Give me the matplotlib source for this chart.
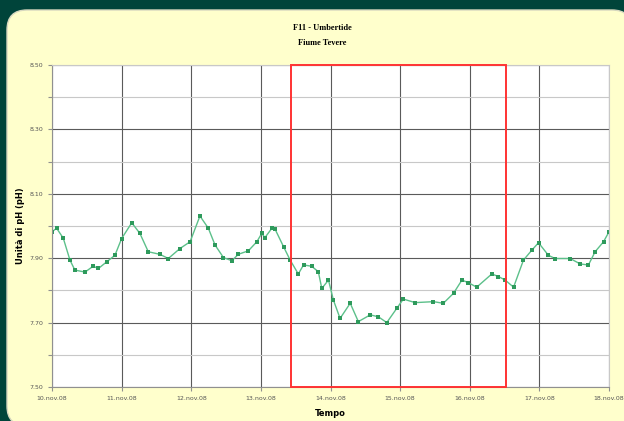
import matplotlib
matplotlib.use("Agg")
import matplotlib.pyplot as plt
from matplotlib.patches import FancyBboxPatch, Rectangle
from matplotlib.ticker import MultipleLocator

# ore dal 10 nov 08 00:00 e valori di pH
ore = [0, 1.6, 3.9, 6.2, 7.9, 11.4, 14.2, 16.0, 18.9, 21.7, 24.0, 27.5, 30.3, 33.2,
       37.2, 40.1, 44.1, 47.6, 51.0, 53.9, 56.2, 59.1, 62.0, 64.2, 67.7, 70.6, 72.3,
       73.4, 75.8, 76.9, 79.8, 82.1, 84.9, 86.7, 89.5, 91.8, 93.0, 95.3, 97.0, 99.3,
       102.8, 105.6, 109.7, 112.5, 115.4, 118.9, 121.1, 125.2, 131.5, 134.9, 138.4,
       141.3, 143.5, 146.4, 151.6, 153.9, 156.2, 159.1, 162.5, 165.4, 167.7, 171.1,
       173.4, 178.6, 182.1, 184.9, 187.2, 190.1, 192.0]
ph = [7.982, 7.993, 7.962, 7.894, 7.863, 7.857, 7.875, 7.868, 7.889, 7.909, 7.961,
      8.010, 7.977, 7.920, 7.912, 7.899, 7.930, 7.951, 8.031, 7.993, 7.941, 7.902,
      7.892, 7.912, 7.923, 7.951, 7.977, 7.964, 7.993, 7.990, 7.936, 7.894, 7.851,
      7.879, 7.875, 7.858, 7.806, 7.832, 7.770, 7.713, 7.760, 7.703, 7.724, 7.718,
      7.700, 7.745, 7.773, 7.762, 7.765, 7.760, 7.791, 7.832, 7.824, 7.810, 7.851,
      7.843, 7.832, 7.810, 7.894, 7.925, 7.948, 7.909, 7.899, 7.899, 7.882, 7.879,
      7.920, 7.951, 7.982]
giorni = ["10.nov.08", "11.nov.08", "12.nov.08", "13.nov.08", "14.nov.08",
          "15.nov.08", "16.nov.08", "17.nov.08", "18.nov.08"]
evidenza = (82.5, 156.5)  # periodo evidenziato in rosso (ore)

fig = plt.figure(figsize=(6.24, 4.21), dpi=100)
fig.patch.set_facecolor("#00443a")

# pannello giallo con angoli arrotondati
pannello = FancyBboxPatch((0.07, -0.05), 6.25, 4.16,
                          boxstyle="round,pad=0,rounding_size=0.2",
                          transform=fig.dpi_scale_trans,
                          facecolor="#ffffcc", edgecolor="#d8d8c0", linewidth=1.0,
                          zorder=-10)
fig.patches.append(pannello)

ax = fig.add_axes([0.0833, 0.0808, 0.8927, 0.7648])
ax.set_facecolor("white")

ax.plot(ore, ph, color="#5cc08a", linewidth=1.0, marker="s", markersize=2.4,
        markerfacecolor="#2e9a5c", markeredgewidth=0)

ax.add_patch(Rectangle((evidenza[0], 7.5), evidenza[1] - evidenza[0], 1.0,
                       fill=False, edgecolor="#ff3333", linewidth=1.4,
                       clip_on=False, zorder=5))

ax.set_xlim(0, 192)
ax.set_ylim(7.5, 8.5)
ax.set_xticks([24 * i for i in range(len(giorni))])
ax.set_xticklabels(giorni)
ax.set_yticks([7.5, 7.7, 7.9, 8.1, 8.3, 8.5])
ax.set_yticklabels(["7.50", "7.70", "7.90", "8.10", "8.30", "8.50"])
ax.yaxis.set_minor_locator(MultipleLocator(0.1))

ax.grid(True, which="major", color="#5a5a5a", linewidth=0.8)
ax.grid(True, which="minor", axis="y", color="#c8c8c8", linewidth=0.8)
ax.set_axisbelow(True)

for s in ["top", "right"]:
    ax.spines[s].set_color("#c8c8c8")
for s in ["left", "bottom"]:
    ax.spines[s].set_color("#909090")
ax.tick_params(which="major", labelsize=4.5, labelcolor="#555555", color="#909090",
               length=3, width=0.8)
ax.tick_params(which="minor", length=3, color="#909090", width=0.8)
ax.tick_params(axis="y", which="both", direction="out")

ax.set_ylabel("Unità di pH (pH)", fontsize=6, fontweight="bold", labelpad=3)
ax.set_xlabel("Tempo", fontsize=6, fontweight="bold", labelpad=6)

fig.text(0.516, 0.933, "F11 - Umbertide", ha="center", va="center",
         fontsize=6, fontweight="bold", family="Liberation Serif")
fig.text(0.516, 0.899, "Fiume Tevere", ha="center", va="center",
         fontsize=6, fontweight="bold", family="Liberation Serif")

fig.savefig("out.png", dpi=100, facecolor=fig.get_facecolor())
